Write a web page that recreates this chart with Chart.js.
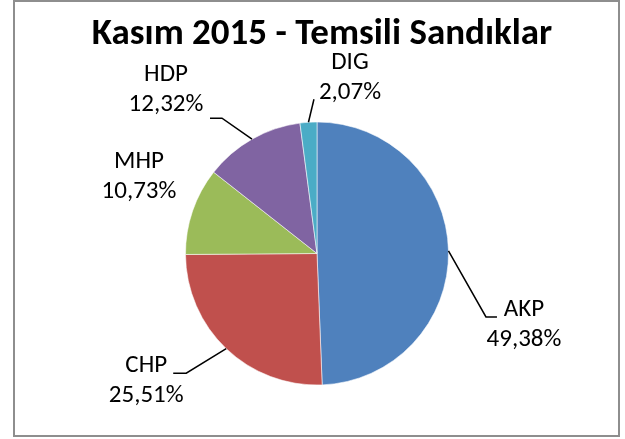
<!DOCTYPE html>
<html><head><meta charset="utf-8">
<script src="https://cdn.jsdelivr.net/npm/chart.js@4"></script>
<style>
html,body{margin:0;padding:0;background:#fff;}
#wrap{position:relative;width:625px;height:439px;}
#frame{position:absolute;left:13px;top:0;width:603px;height:433px;border:2px solid #8e8e8e;pointer-events:none}
canvas{position:absolute;left:0;top:0}
</style></head><body>
<div id="wrap"><canvas id="c" width="625" height="439"></canvas><div id="frame"></div></div>
<script>
const title = 'Kasım 2015 - Temsili Sandıklar';
const categories = ['AKP', 'CHP', 'MHP', 'HDP', 'DIG'];
const values = [49.38, 25.51, 10.73, 12.32, 2.07];
const colors = ['#4F81BD', '#C0504D', '#9BBB59', '#8064A2', '#4BACC6'];

// label placement (style only): label block centre relative to the arc's outer mid point,
// leader elbow / end relative to label centre
const labelLayout = [
  {dx: 75.5, dy: 74, leader: [[-38, -8], [-27, -8]]},
  {dx: -80, dy: 32.5, leader: [[40, -8], [27, -8]]},
  {dx: -53.6, dy: -34, leader: null},
  {dx: -86, dy: -49, leader: [[56, 28], [44, 28]]},
  {dx: 41.5, dy: -45, leader: [[-36, 22]]}
];

const FONT = "Carlito, Lato, 'Open Sans', sans-serif";
const fmt = v => v.toFixed(2).replace('.', ',') + '%';

const labelPlugin = {
  id: 'outLabels',
  afterDraw(chart) {
    const ctx = chart.ctx;
    ctx.save();
    // title
    ctx.fillStyle = '#000';
    ctx.font = "bold 37px " + FONT;
    ctx.textAlign = 'center';
    ctx.textBaseline = 'alphabetic';
    ctx.fillText(title, 322, 44);
    // labels
    const meta = chart.getDatasetMeta(0);
    ctx.font = "25px " + FONT;
    meta.data.forEach((arc, i) => {
      const p = arc.getProps(['x', 'y', 'startAngle', 'endAngle', 'outerRadius'], true);
      const mid = (p.startAngle + p.endAngle) / 2;
      const ax = p.x + Math.cos(mid) * p.outerRadius;
      const ay = p.y + Math.sin(mid) * p.outerRadius;
      const L = labelLayout[i];
      const cx = ax + L.dx, cy = ay + L.dy;
      if (L.leader) {
        ctx.beginPath();
        ctx.strokeStyle = '#000';
        ctx.lineWidth = 1.5;
        ctx.moveTo(ax, ay);
        L.leader.forEach(pt => ctx.lineTo(cx + pt[0], cy + pt[1]));
        ctx.stroke();
      }
      ctx.textBaseline = 'middle';
      ctx.fillText(categories[i], cx, cy - 15);
      ctx.fillText(fmt(values[i]), cx, cy + 15);
    });
    ctx.restore();
  }
};

new Chart(document.getElementById('c'), {
  type: 'pie',
  data: {
    labels: categories,
    datasets: [{
      data: values,
      backgroundColor: colors,
      borderColor: 'rgba(255,255,255,0.55)',
      borderWidth: 1
    }]
  },
  options: {
    responsive: false,
    devicePixelRatio: 1,
    animation: false,
    radius: 131.5,
    layout: {padding: {left: 185.5, right: 176.5, top: 122, bottom: 54}},
    plugins: {legend: {display: false}, tooltip: {enabled: false}, title: {display: false}}
  },
  plugins: [labelPlugin]
});
</script>
</body></html>
